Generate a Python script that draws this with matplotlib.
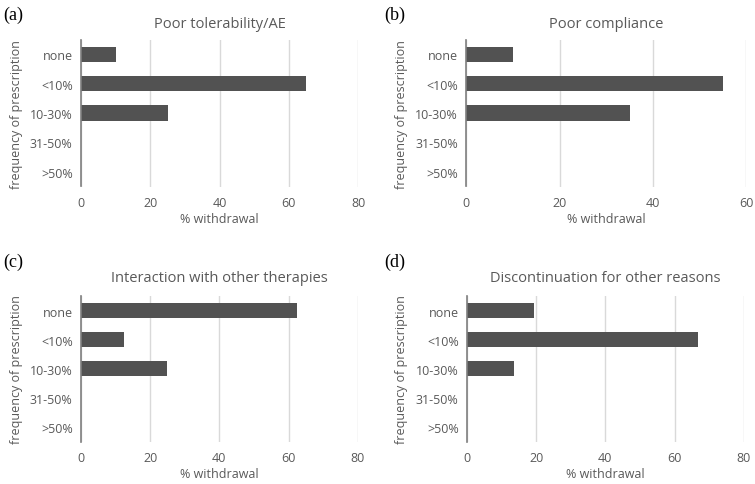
import matplotlib
matplotlib.use("Agg")
import matplotlib.pyplot as plt

categories = ["none", "<10%", "10-30%", "31-50%", ">50%"]
titles = ["Poor tolerability/AE", "Poor compliance",
          "Interaction with other therapies", "Discontinuation for other reasons"]
panel_labels = ["(a)", "(b)", "(c)", "(d)"]
vals_a = [10, 65, 25, 0, 0]
vals_b = [10, 55, 35, 0, 0]
vals_c = [62.5, 12.5, 25, 0, 0]
vals_d = [19.5, 66.7, 13.5, 0, 0]
xmax = [80, 60, 80, 80]
xticks_a = [0, 20, 40, 60, 80]
xticks_b = [0, 20, 40, 60]

series = [vals_a, vals_b, vals_c, vals_d]
ticks = [xticks_a, xticks_b, xticks_a, xticks_a]

W, H = 755, 485
fig = plt.figure(figsize=(W / 100, H / 100), dpi=100)
plt.rcParams['font.family'] = ['Open Sans', 'DejaVu Sans']

# axes boxes in pixels: left, top, right, bottom
boxes = [(81, 40.7, 358, 187.5), (466.3, 40.7, 746.3, 187.5),
         (81, 297, 357.7, 442.7), (467, 297, 743.7, 442.7)]
label_pos = [(3, 15), (384, 15), (3, 262), (384, 262)]
ylabel_x = [23, 408, 23, 408]
title_pad = [9, 9, 11, 11]
text_col = "#595959"
bar_col = "#525252"

for i in range(4):
    l, t, r, b = boxes[i]
    ax = fig.add_axes([l / W, 1 - b / H, (r - l) / W, (b - t) / H])
    ypos = list(range(len(categories)))
    ax.barh(ypos, series[i], height=0.52, color=bar_col, zorder=3)
    ax.set_yticks(ypos)
    ax.set_yticklabels(categories)
    ax.set_ylim(len(categories) - 0.5, -0.5)
    ax.set_xlim(0, xmax[i])
    ax.set_xticks(ticks[i])
    ax.grid(axis='x', color='#d9d9d9', linewidth=1, zorder=0)
    ax.tick_params(length=0, labelsize=9, colors=text_col, pad=6)
    ax.tick_params(axis='x', pad=7)
    for s in ['top', 'right', 'bottom']:
        ax.spines[s].set_visible(False)
    ax.spines['left'].set_color('#7f7f7f')
    ax.spines['left'].set_linewidth(1.2)
    ax.spines['left'].set_zorder(4)
    ax.set_xlabel("% withdrawal", fontsize=9, color=text_col, labelpad=2)
    ax.set_ylabel("frequency of prescription", fontsize=9, color=text_col)
    ax.yaxis.set_label_coords((ylabel_x[i] - l) / (r - l), 0.5)
    ax.set_title(titles[i], fontsize=10.5, color=text_col, pad=title_pad[i])
    fig.text(label_pos[i][0] / W, 1 - label_pos[i][1] / H, panel_labels[i],
             family='Liberation Serif', fontsize=13, color='black',
             ha='left', va='center')

fig.savefig("out.png", dpi=100)
